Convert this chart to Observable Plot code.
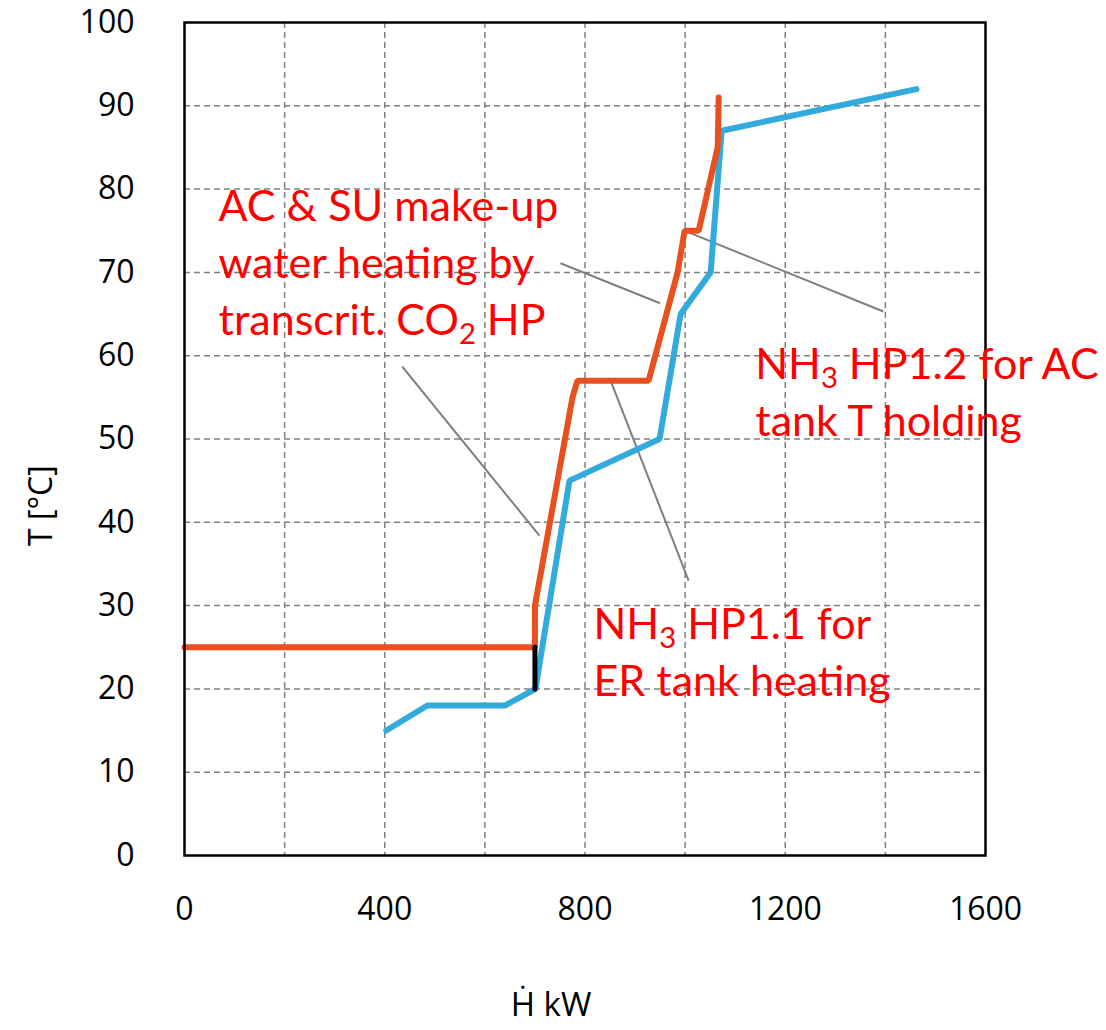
<!DOCTYPE html>
<html>
<head>
<meta charset="utf-8">
<script src="https://cdn.jsdelivr.net/npm/d3@7"></script>
<script src="https://cdn.jsdelivr.net/npm/@observablehq/plot@0.6"></script>
<style>
  html, body { margin: 0; padding: 0; background: #fff; }
  #chart { width: 1106px; height: 1030px; overflow: hidden; }
</style>
</head>
<body>
<div id="chart"></div>
<script>
// ---- data ----
const blueX = [403, 485, 640, 701, 769, 949, 991, 1051, 1073, 1462];
const blueY = [15, 18, 18, 20, 45, 50, 65, 70, 87, 92];

const orangeX = [0, 700, 700, 775, 785, 927, 985, 999, 1027, 1065, 1067];
const orangeY = [25, 25, 30, 55, 57, 57, 70, 75, 75, 85, 91];

const blackX = [700, 700];
const blackY = [25, 20];

const xTicks = [0, 400, 800, 1200, 1600];
const yTicks = [0, 10, 20, 30, 40, 50, 60, 70, 80, 90, 100];
const xGrid = [200, 400, 600, 800, 1000, 1200, 1400];
const yGrid = [10, 20, 30, 40, 50, 60, 70, 80, 90];

const labelText = [
  "AC & SU make-up\nwater heating by\ntranscrit. CO2 HP",
  "NH3 HP1.2 for AC\ntank T holding",
  "NH3 HP1.1 for\nER tank heating"
];
const labelX = [68, 1140, 817];
const labelY = [81.1, 62.1, 30.9];

const leaderX1 = [435, 751, 1007, 853];
const leaderY1 = [58.7, 71.1, 74.8, 56.7];
const leaderX2 = [709, 950, 1396, 1007];
const leaderY2 = [38.4, 66.3, 65.3, 33.0];

// ---- tables built from arrays ----
const blue = blueX.map((x, i) => ({x, y: blueY[i]}));
const orange = orangeX.map((x, i) => ({x, y: orangeY[i]}));
const black = blackX.map((x, i) => ({x, y: blackY[i]}));
const labels = labelText.map((t, i) => ({t, x: labelX[i], y: labelY[i]}));
const leaders = leaderX1.map((x1, i) => ({x1, y1: leaderY1[i], x2: leaderX2[i], y2: leaderY2[i]}));

const plot = Plot.plot({
  width: 1106,
  height: 1030,
  marginLeft: 184,
  marginRight: 121,
  marginTop: 22,
  marginBottom: 175,
  style: {fontFamily: "'Open Sans', sans-serif", background: "#fff", overflow: "visible"},
  x: {domain: [0, 1600], label: null},
  y: {domain: [0, 100], label: null},
  marks: [
    Plot.gridX(xGrid, {stroke: "#808080", strokeOpacity: 1, strokeWidth: 1.5, strokeDasharray: "6,4"}),
    Plot.gridY(yGrid, {stroke: "#808080", strokeOpacity: 1, strokeWidth: 1.5, strokeDasharray: "6,4"}),
    Plot.axisX(xTicks, {tickSize: 0, tickPadding: 42, fontSize: 32, fill: "#000", label: null, tickFormat: d => String(d)}),
    Plot.axisY(yTicks, {tickSize: 0, tickPadding: 50, fontSize: 32, fill: "#000", label: null, tickFormat: d => String(d)}),
    Plot.link(leaders, {x1: "x1", y1: "y1", x2: "x2", y2: "y2", stroke: "#7f7f7f", strokeWidth: 2}),
    Plot.line(blue, {x: "x", y: "y", stroke: "#33AADC", strokeWidth: 6, strokeLinejoin: "miter"}),
    Plot.line(orange, {x: "x", y: "y", stroke: "#E8501F", strokeWidth: 6, strokeLinejoin: "miter"}),
    Plot.line(black, {x: "x", y: "y", stroke: "#000", strokeWidth: 5}),
    Plot.frame({stroke: "#000", strokeWidth: 2.5}),
    Plot.text(labels, {x: "x", y: "y", text: "t", textAnchor: "start", lineAnchor: "top", lineHeight: 1.33,
      fontSize: 43, fill: "#FF0000", fontFamily: "Lato, 'Open Sans', sans-serif", className: "annot"}),
    Plot.text(["T [°C]"], {frameAnchor: "left", dx: -143, dy: 107, rotate: -90, fontSize: 32, fill: "#000", text: d => d}),
    Plot.text(["Ḣ kW"], {frameAnchor: "bottom", dx: -34, dy: 160, fontSize: 33, fill: "#000", text: d => d})
  ]
});

// subscripts in chemical formulas
d3.select(plot).selectAll("g.annot text tspan, g.annot text").each(function() {
  const el = this;
  if (el.childElementCount > 0) return;
  const s = el.textContent;
  const m = s.match(/^(.*?)(CO|NH)(\d)(.*)$/);
  if (!m) return;
  el.textContent = "";
  const ns = "http://www.w3.org/2000/svg";
  el.appendChild(document.createTextNode(m[1] + m[2]));
  const sub = document.createElementNS(ns, "tspan");
  sub.setAttribute("font-size", "68%");
  sub.setAttribute("baseline-shift", "-30%");
  sub.textContent = m[3];
  el.appendChild(sub);
  el.appendChild(document.createTextNode(m[4]));
});

document.getElementById("chart").appendChild(plot);
</script>
</body>
</html>
